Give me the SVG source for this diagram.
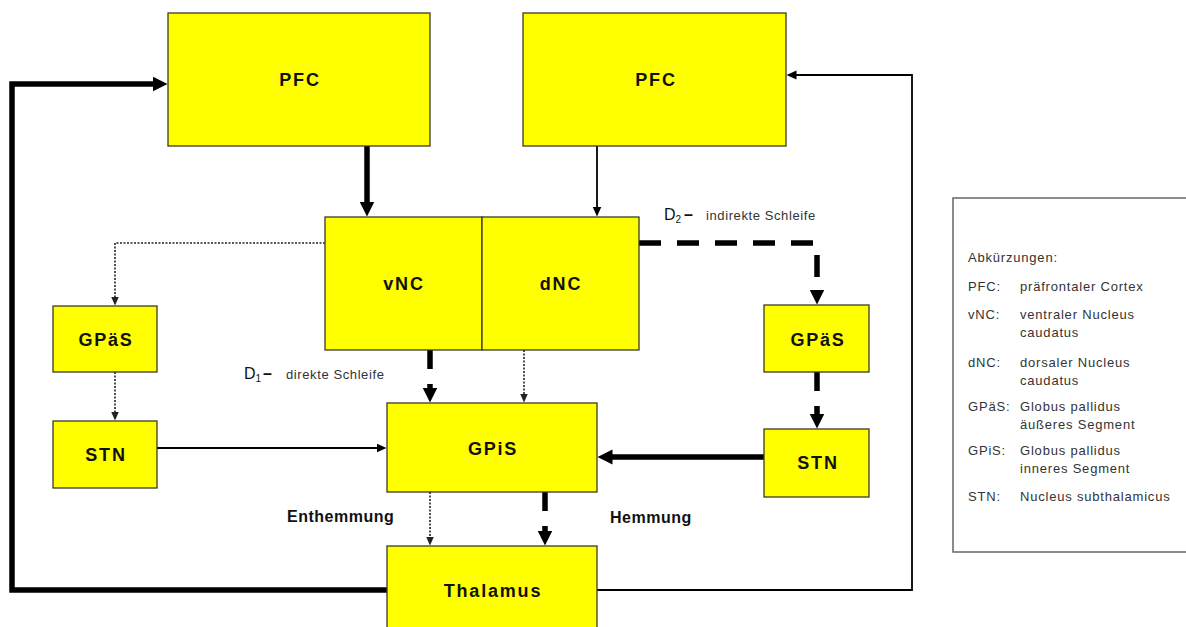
<svg xmlns="http://www.w3.org/2000/svg" width="1186" height="627" viewBox="0 0 1186 627">
<style>
.box{fill:#ffff00;stroke:#3a3a2a;stroke-width:1.3}
.lbl{font-family:"Liberation Sans",Arial,sans-serif;font-weight:bold;font-size:18px;letter-spacing:1.8px;fill:#111;text-anchor:middle}
.thick{fill:none;stroke:#000;stroke-width:5.5;stroke-linejoin:miter;stroke-linecap:butt}
.thin{fill:none;stroke:#000;stroke-width:1.8}
.dot{fill:none;stroke:#222;stroke-width:1.6;stroke-dasharray:2 1.5}
.dash{fill:none;stroke:#000;stroke-width:5.5;stroke-dasharray:19 15}
.dashlong{fill:none;stroke:#000;stroke-width:5.5;stroke-dasharray:22 16}
.side{font-family:"Liberation Sans",Arial,sans-serif;font-weight:bold;font-size:16px;letter-spacing:0.5px;fill:#111}
.lp{font-family:"Liberation Sans",Arial,sans-serif;font-size:13px;letter-spacing:0.6px;fill:#333}
.lg{font-family:"Liberation Sans",Arial,sans-serif;font-size:13px;letter-spacing:0.8px;fill:#333}
</style>
<defs>
<marker id="hT" markerUnits="userSpaceOnUse" markerWidth="16" markerHeight="16" refX="0.5" refY="7.5" orient="auto"><path d="M0,0 L15,7.5 L0,15 Z" fill="#000"/></marker>
<marker id="hN" markerUnits="userSpaceOnUse" markerWidth="11" markerHeight="10" refX="0.5" refY="4.5" orient="auto"><path d="M0,0 L10,4.5 L0,9 Z" fill="#000"/></marker>
<marker id="hD" markerUnits="userSpaceOnUse" markerWidth="10" markerHeight="9" refX="0.5" refY="4" orient="auto"><path d="M0,0 L9,4 L0,8 Z" fill="#222"/></marker>
</defs>
<rect width="1186" height="627" fill="#fff"/>

<g id="connectors">
<path class="thick" d="M387,590 H12 V84 H153" marker-end="url(#hT)"/>
<path class="thick" d="M367,146 V202" marker-end="url(#hT)"/>
<path class="thin" d="M597,146 V207" marker-end="url(#hN)"/>
<path class="thin" d="M597,590 H912 V75 H796" marker-end="url(#hN)"/>
<path class="dot" d="M325,243 H115 V297" marker-end="url(#hD)"/>
<path class="dot" d="M115,372 V412" marker-end="url(#hD)"/>
<path class="thin" d="M157,448 H377" marker-end="url(#hN)"/>
<path class="dashlong" d="M639,243 H817 V290" marker-end="url(#hT)"/>
<path class="dash" d="M817,372 V414" marker-end="url(#hT)"/>
<path class="thick" d="M764,457 H612" marker-end="url(#hT)"/>
<path class="dash" d="M430,350 V388" marker-end="url(#hT)"/>
<path class="dot" d="M524,350 V394" marker-end="url(#hD)"/>
<path class="dot" d="M430,492 V537" marker-end="url(#hD)"/>
<path class="dash" d="M545,492 V531" marker-end="url(#hT)"/>
</g>

<g id="pfc-left"><rect class="box" x="168" y="13" width="262" height="133"/><text class="lbl" x="300" y="86">PFC</text></g>
<g id="pfc-right"><rect class="box" x="523" y="13" width="263" height="133"/><text class="lbl" x="656" y="86">PFC</text></g>
<g id="vnc"><rect class="box" x="325" y="217" width="157" height="133"/><text class="lbl" x="404" y="290">vNC</text></g>
<g id="dnc"><rect class="box" x="482" y="217" width="157" height="133"/><text class="lbl" x="561" y="290">dNC</text></g>
<g id="gpas-left"><rect class="box" x="53" y="306" width="104" height="66"/><text class="lbl" x="106" y="346">GPäS</text></g>
<g id="stn-left"><rect class="box" x="53" y="421" width="104" height="67"/><text class="lbl" x="106" y="461">STN</text></g>
<g id="gpas-right"><rect class="box" x="764" y="305" width="105" height="67"/><text class="lbl" x="818" y="346">GPäS</text></g>
<g id="stn-right"><rect class="box" x="764" y="429" width="105" height="68"/><text class="lbl" x="818" y="469">STN</text></g>
<g id="gpis"><rect class="box" x="387" y="403" width="210" height="89"/><text class="lbl" x="493" y="455">GPiS</text></g>
<g id="thalamus"><rect class="box" x="387" y="546" width="210" height="90"/><text class="lbl" x="493" y="597">Thalamus</text></g>

<g id="labels">
<text x="244" y="379" font-family="'Liberation Sans',Arial,sans-serif" fill="#111"><tspan font-size="16">D</tspan><tspan font-size="10" dy="3">1</tspan><tspan x="263" dy="-3" font-size="16" font-weight="bold">–</tspan><tspan class="lp" x="286">direkte Schleife</tspan></text>
<text x="664" y="220" font-family="'Liberation Sans',Arial,sans-serif" fill="#111"><tspan font-size="16">D</tspan><tspan font-size="10" dy="3">2</tspan><tspan x="684" dy="-3" font-size="16" font-weight="bold">–</tspan><tspan class="lp" x="706">indirekte Schleife</tspan></text>
<text class="side" x="287" y="522">Enthemmung</text>
<text class="side" x="610" y="523">Hemmung</text>
</g>

<g id="legend">
<rect x="953" y="198" width="250" height="354" fill="#fff" stroke="#666" stroke-width="1.5"/>
<text class="lg" x="968" y="262">Abkürzungen:</text>
<text class="lg" x="968" y="291">PFC:</text><text class="lg" x="1020" y="291">präfrontaler Cortex</text>
<text class="lg" x="968" y="319">vNC:</text><text class="lg" x="1020" y="319">ventraler Nucleus</text><text class="lg" x="1020" y="337">caudatus</text>
<text class="lg" x="968" y="367">dNC:</text><text class="lg" x="1020" y="367">dorsaler Nucleus</text><text class="lg" x="1020" y="385">caudatus</text>
<text class="lg" x="968" y="411">GPäS:</text><text class="lg" x="1020" y="411">Globus pallidus</text><text class="lg" x="1020" y="429">äußeres Segment</text>
<text class="lg" x="968" y="455">GPiS:</text><text class="lg" x="1020" y="455">Globus pallidus</text><text class="lg" x="1020" y="473">inneres Segment</text>
<text class="lg" x="968" y="501">STN:</text><text class="lg" x="1020" y="501">Nucleus subthalamicus</text>
</g>
</svg>
